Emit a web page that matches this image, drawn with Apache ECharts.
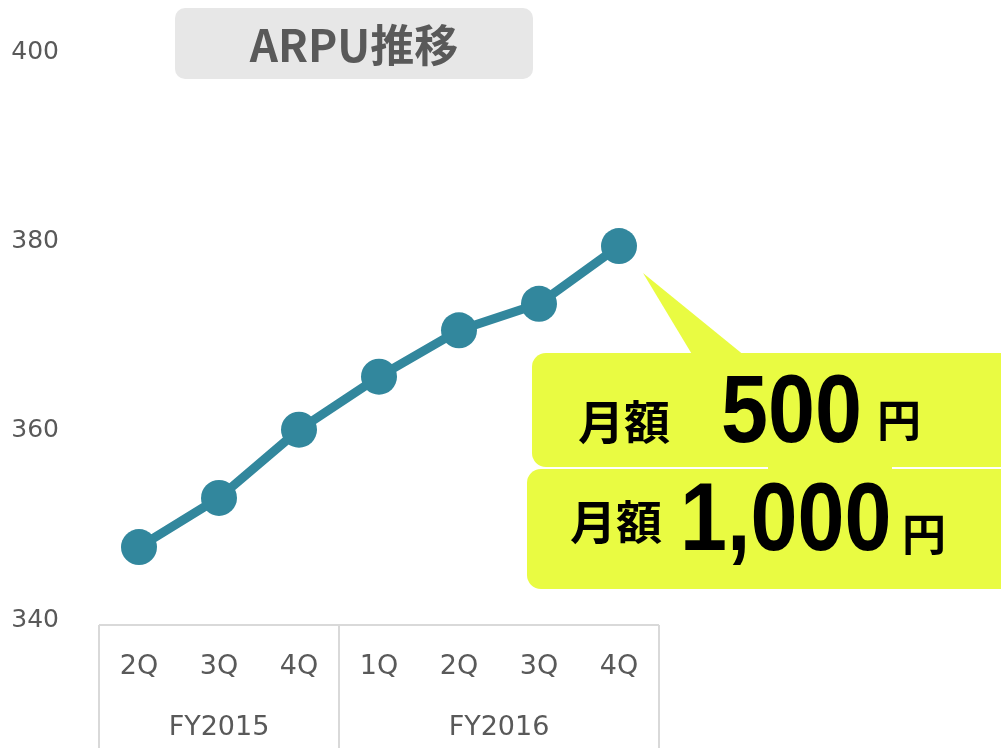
<!DOCTYPE html>
<html>
<head>
<meta charset="utf-8">
<script src="https://cdn.jsdelivr.net/npm/echarts@6/dist/echarts.min.js"></script>
<style>
  html, body { margin: 0; padding: 0; background: #fff; }
  #chart { width: 1001px; height: 748px; }
</style>
</head>
<body>
<div id="chart"></div>
<script>
const quarters = ['2Q', '3Q', '4Q', '1Q', '2Q', '3Q', '4Q'];
const fiscalYears = ['FY2015', 'FY2016'];
const quartersPerYear = [3, 4];
const arpu = [347.7, 352.9, 360.1, 365.7, 370.6, 373.4, 379.5];
const yTicks = [340, 360, 380, 400];

const LINE_COLOR = '#32879d';
const YELLOW = '#e9fb42';
const LABEL_COLOR = '#595959';
const BORDER = '#d9d9d9';

const myChart = echarts.init(document.getElementById('chart'));

const option = {
  animation: false,
  grid: { left: 99, right: 342, top: 52, bottom: 128 },
  xAxis: {
    type: 'category',
    data: quarters,
    boundaryGap: true,
    axisLine: { show: false },
    axisTick: { show: false },
    axisLabel: {
      color: LABEL_COLOR,
      fontFamily: 'DejaVu Sans',
      fontSize: 27,
      margin: 33,
    },
  },
  yAxis: {
    type: 'value',
    min: yTicks[0],
    max: yTicks[yTicks.length - 1],
    interval: yTicks[1] - yTicks[0],
    splitLine: { show: false },
    axisLine: { show: false },
    axisTick: { show: false },
    axisLabel: {
      color: LABEL_COLOR,
      fontFamily: 'DejaVu Sans',
      fontSize: 25,
      margin: 40,
      padding: [5, 0, 0, 0],
    },
  },
  series: [
    {
      type: 'line',
      data: arpu,
      symbol: 'circle',
      symbolSize: 36,
      lineStyle: { color: LINE_COLOR, width: 9 },
      itemStyle: { color: LINE_COLOR },
      z: 3,
    },
  ],
};
myChart.setOption(option);

// 軸の下の表（枠線と年度ラベル）は軸の座標から計算
const c0 = myChart.convertToPixel({ xAxisIndex: 0 }, 0);
const c1 = myChart.convertToPixel({ xAxisIndex: 0 }, 1);
const band = c1 - c0;
const left = c0 - band / 2;
const axisY = myChart.convertToPixel({ yAxisIndex: 0 }, yTicks[0]);
const tableTop = axisY + 5;

const graphics = [];
graphics.push({
  type: 'line',
  shape: { x1: left, y1: tableTop, x2: left + band * quarters.length, y2: tableTop },
  style: { stroke: BORDER, lineWidth: 2 },
});
let start = 0;
const edges = [0];
quartersPerYear.forEach((n, i) => {
  const x0 = left + band * start;
  const x1 = left + band * (start + n);
  edges.push(start + n);
  graphics.push({
    type: 'text',
    x: (x0 + x1) / 2,
    y: 728,
    style: {
      text: fiscalYears[i],
      fill: LABEL_COLOR,
      font: '27px "DejaVu Sans"',
      textAlign: 'center',
      textVerticalAlign: 'middle',
    },
  });
  start += n;
});
edges.forEach((e) => {
  const x = left + band * e;
  graphics.push({
    type: 'line',
    shape: { x1: x, y1: tableTop, x2: x, y2: 760 },
    style: { stroke: BORDER, lineWidth: 2 },
  });
});

// タイトル
graphics.push({
  type: 'rect',
  shape: { x: 175, y: 8, width: 358, height: 71, r: 10 },
  style: { fill: '#e7e7e7' },
});
graphics.push({
  type: 'text',
  x: 354,
  y: 45,
  style: {
    text: 'ARPU推移',
    fill: LABEL_COLOR,
    font: 'bold 44px "Noto Sans CJK JP"',
    textAlign: 'center',
    textVerticalAlign: 'middle',
  },
});

// 吹き出し
graphics.push({
  type: 'polygon',
  shape: { points: [[643, 273], [693, 356], [745, 356]] },
  style: { fill: YELLOW },
});
graphics.push({
  type: 'rect',
  shape: { x: 532, y: 353, width: 490, height: 114, r: 14 },
  style: { fill: YELLOW },
});
graphics.push({
  type: 'rect',
  shape: { x: 527, y: 469, width: 495, height: 120, r: 14 },
  style: { fill: YELLOW },
});
graphics.push({
  type: 'rect',
  shape: { x: 768, y: 460, width: 124, height: 14 },
  style: { fill: YELLOW },
});

const cjkText = (text, x, y, size) => ({
  type: 'text',
  x,
  y,
  style: {
    text,
    fill: '#000',
    font: 'bold ' + size + 'px "Noto Sans CJK JP"',
    textAlign: 'left',
    textVerticalAlign: 'middle',
  },
});
const numText = (text, x, y) => ({
  type: 'text',
  x,
  y,
  scaleX: 0.88,
  style: {
    text,
    fill: '#000',
    font: 'bold 96px "Liberation Sans"',
    textAlign: 'left',
    textVerticalAlign: 'middle',
  },
});
graphics.push(cjkText('月額', 578, 422, 46));
graphics.push(numText('500', 721, 416));
graphics.push(cjkText('円', 877, 420, 44));
graphics.push(cjkText('月額', 570, 522, 46));
graphics.push(numText('1,000', 680, 524));
graphics.push(cjkText('円', 902, 534, 44));

myChart.setOption({ graphic: graphics });
</script>
</body>
</html>
